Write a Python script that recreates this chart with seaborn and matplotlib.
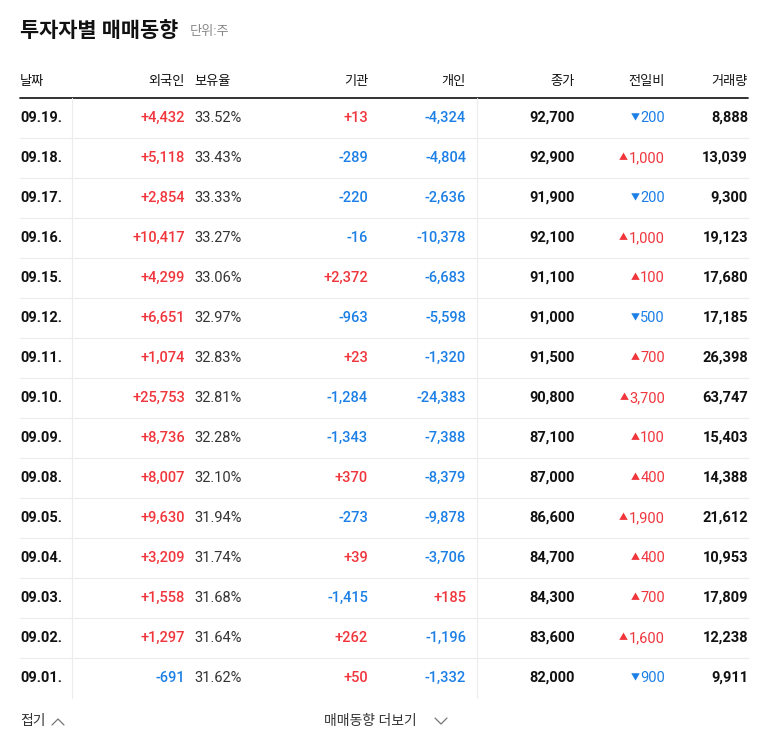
import matplotlib
matplotlib.use("Agg")
import matplotlib.pyplot as plt
import seaborn as sns

sns.set_theme(style="white", font="Noto Sans CJK KR")
plt.rcParams["font.family"] = ["Roboto", "Noto Sans CJK KR"]

dates = ["09.19.","09.18.","09.17.","09.16.","09.15.","09.12.","09.11.","09.10.","09.09.","09.08.","09.05.","09.04.","09.03.","09.02.","09.01."]
foreign = [4432,5118,2854,10417,4299,6651,1074,25753,8736,8007,9630,3209,1558,1297,-691]
holding = [33.52,33.43,33.33,33.27,33.06,32.97,32.83,32.81,32.28,32.10,31.94,31.74,31.68,31.64,31.62]
inst = [13,-289,-220,-16,2372,-963,23,-1284,-1343,370,-273,39,-1415,262,50]
indiv = [-4324,-4804,-2636,-10378,-6683,-5598,-1320,-24383,-7388,-8379,-9878,-3706,185,-1196,-1332]
close = [92700,92900,91900,92100,91100,91000,91500,90800,87100,87000,86600,84700,84300,83600,82000]
change = [-200,1000,-200,1000,100,-500,700,3700,100,400,1900,400,700,1600,-900]
volume = [8888,13039,9300,19123,17680,17185,26398,63747,15403,14388,21612,10953,17809,12238,9911]
headers = ["날짜","외국인","보유율","기관","개인","종가","전일비","거래량"]

RED = "#f0363c"
BLUE = "#1b7fe6"
DARK = "#111111"

W, H = 768, 749
fig = plt.figure(figsize=(W/100, H/100), dpi=100)
ax = fig.add_axes([0, 0, 1, 1])
ax.set_xlim(0, W); ax.set_ylim(H, 0); ax.axis("off")

ax.text(20, 31, "투자자별 매매동향", fontsize=15, fontweight="bold", color=DARK, va="center")
ax.text(190, 32, "단위:주", fontsize=9.5, color="#888888", va="center")

hx = [(20,"left"),(185,"right"),(194,"left"),(368,"right"),(466,"right"),(575,"right"),(665,"right"),(748,"right")]
for (x, ha), h in zip(hx, headers):
    ax.text(x, 81, h, fontsize=9.5, color=DARK, ha=ha, va="center")
ax.plot([20, 748], [98, 98], color="#222222", lw=1.3)
ax.plot([72, 72], [98, 698], color="#ececec", lw=0.8)
ax.plot([477, 477], [98, 698], color="#ececec", lw=0.8)

def sgn(v):
    return f"+{v:,}" if v > 0 else f"{v:,}"
def col(v):
    return RED if v > 0 else BLUE

fig.canvas.draw()
r = fig.canvas.get_renderer()
fs = 10.5
for i in range(len(dates)):
    y = 118 + 40*i
    ax.text(20, y, dates[i], fontsize=fs, fontweight="bold", color=DARK, va="center")
    ax.text(185, y, sgn(foreign[i]), fontsize=fs, fontweight="medium", color=col(foreign[i]), ha="right", va="center")
    ax.text(194, y, f"{holding[i]:.2f}%", fontsize=fs, color="#333333", va="center")
    ax.text(368, y, sgn(inst[i]), fontsize=fs, fontweight="medium", color=col(inst[i]), ha="right", va="center")
    ax.text(466, y, sgn(indiv[i]), fontsize=fs, fontweight="medium", color=col(indiv[i]), ha="right", va="center")
    ax.text(575, y, f"{close[i]:,}", fontsize=fs, fontweight="bold", color=DARK, ha="right", va="center")
    t = ax.text(665, y, f"{abs(change[i]):,}", fontsize=fs, color=col(change[i]), ha="right", va="center")
    w = t.get_window_extent(r).width
    ax.text(665 - w - 1, y, "▲" if change[i] > 0 else "▼", fontsize=6.5, color=col(change[i]),
            ha="right", va="center", family="Noto Sans CJK KR")
    ax.text(748, y, f"{volume[i]:,}", fontsize=fs, fontweight="bold", color=DARK, ha="right", va="center")
    if i < len(dates) - 1:
        ax.plot([20, 748], [y+20, y+20], color="#ececec", lw=0.8)

ax.text(20, 721, "접기", fontsize=10, color="#333333", va="center")
ax.plot([52, 58, 64], [725, 719, 725], color="#777777", lw=0.9)
ax.text(324, 721, "매매동향 더보기", fontsize=10, color="#333333", va="center")
ax.plot([435, 441, 447], [718, 724, 718], color="#777777", lw=0.9)

fig.savefig("out.png", dpi=100)
